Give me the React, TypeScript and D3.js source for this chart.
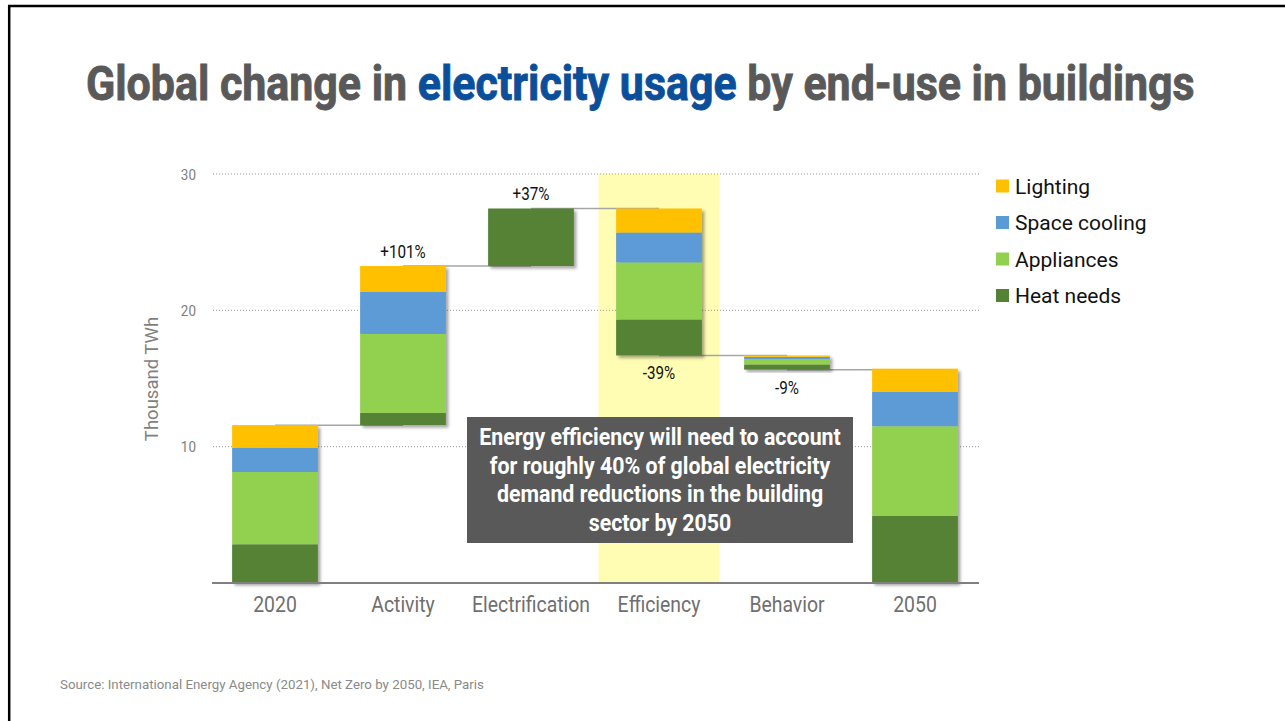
import React, { useEffect, useRef } from "react";
import * as d3 from "d3";

const categories = ["2020", "Activity", "Electrification", "Efficiency", "Behavior", "2050"];
const kinds = ["total", "increase", "increase", "decrease", "decrease", "total"];
const pctLabels = ["", "+101%", "+37%", "-39%", "-9%", ""];
const seriesNames = ["Heat needs", "Appliances", "Space cooling", "Lighting"]; // bottom to top
const seriesColors = ["#548235", "#92D050", "#5B9BD5", "#FFC000"];
const heatNeeds = [2.84, 0.9, 4.22, 2.64, 0.38, 4.93];
const appliances = [5.3, 5.79, 0, 4.18, 0.4, 6.57];
const spaceCooling = [1.78, 3.08, 0, 2.2, 0.16, 2.51];
const lighting = [1.66, 1.9, 0, 1.76, 0.1, 1.71];
const yTicks = [10, 20, 30];
const legendOrder = ["Lighting", "Space cooling", "Appliances", "Heat needs"];
const noteLines = [
  "Energy efficiency will need to account",
  "for roughly 40% of global electricity",
  "demand reductions in the building",
  "sector by 2050",
];
const sourceText = "Source: International Energy Agency (2021), Net Zero by 2050, IEA, Paris";

const W = 1285;
const H = 721;
const COND = 0.87;
const FONT = "Roboto, 'Noto Sans', sans-serif";

export default function App() {
  const ref = useRef<SVGSVGElement | null>(null);

  useEffect(() => {
    const svg = d3.select(ref.current);
    svg.selectAll("*").remove();

    const defs = svg.append("defs");
    const f = defs.append("filter").attr("id", "shadow").attr("x", "-20%").attr("y", "-20%").attr("width", "140%").attr("height", "140%");
    f.append("feDropShadow").attr("dx", 2.5).attr("dy", 2.5).attr("stdDeviation", 1.6).attr("flood-color", "#000").attr("flood-opacity", 0.35);

    svg.append("rect").attr("width", W).attr("height", H).attr("fill", "#fff");
    // frame
    svg.append("line").attr("x1", 8).attr("x2", W).attr("y1", 6).attr("y2", 6).attr("stroke", "#000").attr("stroke-width", 2.5);
    svg.append("line").attr("x1", 9.2).attr("x2", 9.2).attr("y1", 5).attr("y2", H).attr("stroke", "#000").attr("stroke-width", 2.5);

    // title
    const title = svg.append("text").attr("x", 0).attr("y", 0)
      .attr("font-family", FONT).attr("font-weight", 700).attr("font-size", 48).attr("fill", "#595959")
      .attr("stroke", "#595959").attr("stroke-width", 0.9);
    title.append("tspan").text("Global change in ");
    title.append("tspan").attr("fill", "#0B4F9A").attr("stroke", "#0B4F9A").text("electricity usage");
    title.append("tspan").text(" by end-use in buildings");
    const tl = (title.node() as SVGTextElement).getComputedTextLength();
    title.attr("transform", `translate(86,100) scale(${1109 / tl},1)`);

    const x = d3.scaleBand<string>().domain(categories).range([211, 979]).paddingInner(0.33).paddingOuter(0.165);
    const y = d3.scaleLinear().domain([0, 30]).range([583, 174]);

    // highlight
    const eff = "Efficiency";
    const cx = (c: string) => (x(c) as number) + x.bandwidth() / 2;
    svg.append("rect")
      .attr("x", cx(eff) - x.step() * 0.473).attr("width", x.step() * 0.946)
      .attr("y", y(30)).attr("height", y(0) - y(30)).attr("fill", "#FFFDB3");

    // gridlines
    svg.append("g").selectAll("line").data(yTicks).join("line")
      .attr("x1", 213).attr("x2", 980).attr("y1", (d) => y(d)).attr("y2", (d) => y(d))
      .attr("stroke", "#9a9a9a").attr("stroke-width", 1).attr("stroke-dasharray", "1,2");

    // tick labels
    svg.append("g").selectAll("text").data(yTicks).join("text")
      .attr("transform", (d) => `translate(196,${y(d) + 5.5}) scale(${COND},1)`)
      .attr("text-anchor", "end").attr("font-family", FONT).attr("font-size", 15.5).attr("fill", "#7f7f7f")
      .text((d) => String(d));

    // y axis title
    svg.append("text").attr("transform", `translate(158,379) rotate(-90)`)
      .attr("text-anchor", "middle").attr("font-family", FONT).attr("font-size", 18.5).attr("fill", "#7f7f7f")
      .text("Thousand TWh");

    // compute waterfall
    const series = [heatNeeds, appliances, spaceCooling, lighting];
    let running = 0;
    const bars = categories.map((c, i) => {
      const total = series.reduce((s, a) => s + a[i], 0);
      let base = 0;
      if (kinds[i] === "total") { base = 0; running = total; }
      else if (kinds[i] === "increase") { base = running; running += total; }
      else { running -= total; base = running; }
      return { c, i, base, total, end: running };
    });

    // connectors
    svg.append("g").selectAll("line").data(bars.slice(0, -1)).join("line")
      .attr("x1", (d) => cx(d.c)).attr("x2", (d) => cx(categories[d.i + 1]))
      .attr("y1", (d) => y(d.end)).attr("y2", (d) => y(d.end))
      .attr("stroke", "#a6a6a6").attr("stroke-width", 1.5);

    // bars
    const bg = svg.append("g");
    bars.forEach((b) => {
      const g = bg.append("g").attr("filter", "url(#shadow)");
      let acc = b.base;
      series.forEach((s, k) => {
        const v = s[b.i];
        if (v <= 0) return;
        g.append("rect").attr("x", x(b.c) as number).attr("width", x.bandwidth())
          .attr("y", y(acc + v)).attr("height", y(acc) - y(acc + v)).attr("fill", seriesColors[k]);
        acc += v;
      });
    });

    // pct labels
    bars.forEach((b) => {
      const lab = pctLabels[b.i];
      if (!lab) return;
      const ly = kinds[b.i] === "increase" ? y(b.base + b.total) - 8 : y(b.base) + 24;
      svg.append("text").attr("transform", `translate(${cx(b.c)},${ly}) scale(${COND},1)`)
        .attr("text-anchor", "middle").attr("font-family", FONT).attr("font-size", 17.5).attr("fill", "#111")
        .text(lab);
    });

    // axis line
    svg.append("line").attr("x1", 212).attr("x2", 979).attr("y1", y(0)).attr("y2", y(0))
      .attr("stroke", "#808080").attr("stroke-width", 1.8);

    // x labels
    svg.append("g").selectAll("text").data(categories).join("text")
      .attr("transform", (d) => `translate(${cx(d)},${612}) scale(${COND},1)`)
      .attr("text-anchor", "middle").attr("font-family", FONT).attr("font-size", 22.3).attr("fill", "#6f6f6f")
      .text((d) => d);

    // legend
    const lg = svg.append("g");
    legendOrder.forEach((name, i) => {
      const k = seriesNames.indexOf(name);
      const yy = 186 + i * 36.5;
      lg.append("rect").attr("x", 996).attr("y", yy - 6.5).attr("width", 13).attr("height", 13).attr("fill", seriesColors[k]);
      lg.append("text").attr("x", 1015).attr("y", yy + 7.5).attr("font-family", FONT).attr("font-size", 21).attr("fill", "#111").text(name);
    });

    // note box
    svg.append("rect").attr("x", 467).attr("y", 417).attr("width", 386).attr("height", 126).attr("fill", "#595959");
    noteLines.forEach((t, i) => {
      svg.append("text").attr("transform", `translate(660,${445 + i * 28.6}) scale(0.89,1)`)
        .attr("text-anchor", "middle").attr("font-family", FONT).attr("font-weight", 700).attr("font-size", 24).attr("fill", "#fff")
        .text(t);
    });

    // source
    svg.append("text").attr("x", 60).attr("y", 689).attr("font-family", FONT).attr("font-size", 13.3).attr("fill", "#8a8a8a")
      .text(sourceText);
  }, []);

  return (
    <svg ref={ref} width={W} height={H} style={{ position: "absolute", left: 0, top: 0, display: "block" }} />
  );
}
